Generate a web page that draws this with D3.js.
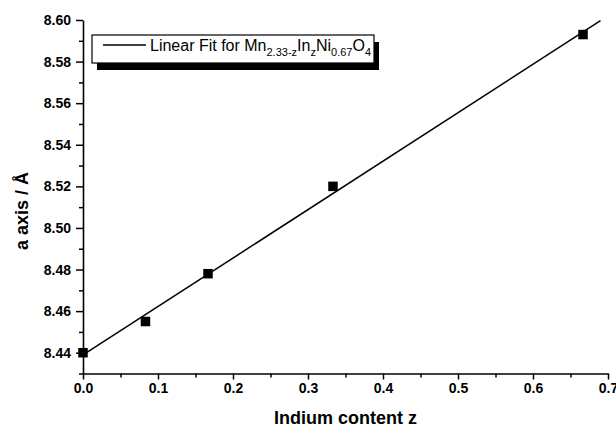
<!DOCTYPE html>
<html><head><meta charset="utf-8">
<script src="https://cdn.jsdelivr.net/npm/d3@7"></script>
<style>
body{margin:0;background:#fff;}
svg{display:block;font-family:"Liberation Sans",Arial,Helvetica,sans-serif;}
</style></head>
<body>
<script>
// Data
const indiumZ = [0, 0.0833, 0.1667, 0.3333, 0.6667];
const aAxis = [8.440, 8.455, 8.478, 8.520, 8.593];
const fitZ = [0, 0.69];
const fitA = [8.4389, 8.5997];
const xTicks = [0, 0.1, 0.2, 0.3, 0.4, 0.5, 0.6, 0.7];
const xMinor = [0.05, 0.15, 0.25, 0.35, 0.45, 0.55, 0.65];
const yTicks = [8.44, 8.46, 8.48, 8.50, 8.52, 8.54, 8.56, 8.58, 8.60];
const yMinor = [8.43, 8.45, 8.47, 8.49, 8.51, 8.53, 8.55, 8.57, 8.59];

const W = 616, H = 427;
const svg = d3.select("body").append("svg").attr("width", W).attr("height", H);

const x = d3.scaleLinear().domain([0, 0.7]).range([83, 608]);
const y = d3.scaleLinear().domain([8.43, 8.60]).range([373.5, 20]);

// minor ticks
svg.append("g").attr("transform", `translate(0,${y(8.43)})`)
  .call(d3.axisBottom(x).tickValues(xMinor).tickSize(4).tickFormat(""))
  .call(g => g.select(".domain").remove())
  .call(g => g.selectAll("line").attr("stroke-width", 1.5));
svg.append("g").attr("transform", `translate(${x(0)},0)`)
  .call(d3.axisLeft(y).tickValues(yMinor).tickSize(4).tickFormat(""))
  .call(g => g.select(".domain").remove())
  .call(g => g.selectAll("line").attr("stroke-width", 1.5));

// major axes
const xa = svg.append("g").attr("transform", `translate(0,${y(8.43)})`)
  .call(d3.axisBottom(x).tickValues(xTicks).tickSize(6).tickSizeOuter(0).tickPadding(4).tickFormat(d3.format(".1f")));
const ya = svg.append("g").attr("transform", `translate(${x(0)},0)`)
  .call(d3.axisLeft(y).tickValues(yTicks).tickSize(7).tickSizeOuter(0).tickPadding(5).tickFormat(d3.format(".2f")));
[xa, ya].forEach(g => {
  g.select(".domain").attr("stroke-width", 1.6);
  g.selectAll("line").attr("stroke-width", 1.5);
  g.selectAll("text").attr("font-size", 14).attr("font-weight", "bold")
    .attr("font-family", "'Liberation Sans',Arial,sans-serif").attr("fill", "#000");
});

// axis titles
svg.append("text").attr("x", (x(0) + x(0.7)) / 2).attr("y", 424)
  .attr("text-anchor", "middle").attr("font-size", 18).attr("font-weight", "bold")
  .text("Indium content z");
svg.append("text").attr("transform", `translate(28,211) rotate(-90)`)
  .attr("text-anchor", "middle").attr("font-size", 18).attr("font-weight", "bold")
  .text("a axis / Å");

// fit line
svg.append("line")
  .attr("x1", x(fitZ[0])).attr("y1", y(fitA[0]))
  .attr("x2", x(fitZ[1])).attr("y2", y(fitA[1]))
  .attr("stroke", "#000").attr("stroke-width", 1.5);

// points
const s = 9.5;
svg.selectAll("rect.pt").data(indiumZ).enter().append("rect").attr("class", "pt")
  .attr("x", (d) => x(d) - s / 2).attr("y", (d, i) => y(aAxis[i]) - s / 2)
  .attr("width", s).attr("height", s).attr("fill", "#000");

// legend
const lg = svg.append("g");
const bx = 92, by = 35, bw = 282, bh = 28;
lg.append("rect").attr("x", bx + 5).attr("y", by + 7).attr("width", bw).attr("height", bh).attr("fill", "#000");
lg.append("rect").attr("x", bx).attr("y", by).attr("width", bw).attr("height", bh)
  .attr("fill", "#fff").attr("stroke", "#000").attr("stroke-width", 1.2);
lg.append("line").attr("x1", 103).attr("x2", 146).attr("y1", 45).attr("y2", 45)
  .attr("stroke", "#000").attr("stroke-width", 1.4);
const t = lg.append("text").attr("x", 150).attr("y", 51).attr("font-size", 16);
const parts = [["Linear Fit for Mn", 0], ["2.33-z", 1], ["In", 0], ["z", 1], ["Ni", 0], ["0.67", 1], ["O", 0], ["4", 1]];
let prevSub = false;
parts.forEach(([txt, sub]) => {
  const sp = t.append("tspan").text(txt);
  if (sub) { sp.attr("font-size", 11).attr("dy", prevSub ? 0 : 5); prevSub = true; }
  else { sp.attr("dy", prevSub ? -5 : 0); prevSub = false; }
});
</script>
</body></html>
